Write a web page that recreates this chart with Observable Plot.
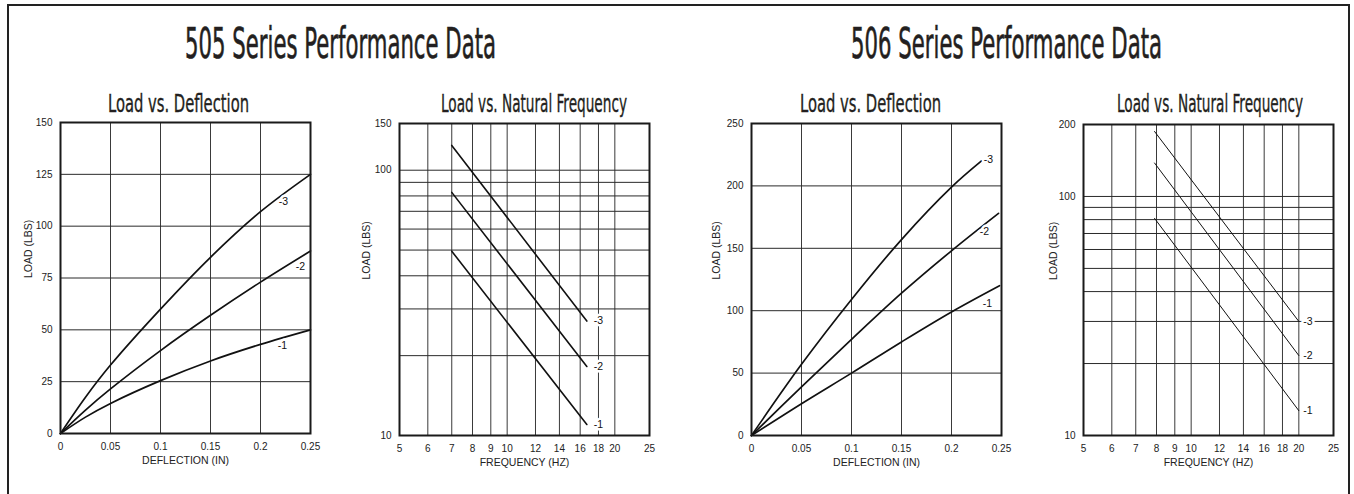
<!DOCTYPE html>
<html><head><meta charset="utf-8">
<script src="https://cdn.jsdelivr.net/npm/d3@7"></script>
<script src="https://cdn.jsdelivr.net/npm/@observablehq/plot@0.6"></script>
<style>
html,body{margin:0;padding:0;background:#fff;}
#root{position:relative;width:1354px;height:494px;overflow:hidden;background:#fff;}
.border{position:absolute;left:7px;top:4px;width:1343px;height:600px;border:2px solid #222;box-sizing:border-box;}
.ttl{position:absolute;white-space:nowrap;color:#231f20;line-height:1;transform-origin:0 0;}
.panel{position:absolute;}
</style></head><body><div id="root"><div class="border"></div></div>
<script>
// ---------- data ----------
// 505 Series, Load vs. Deflection
const defl505 = [0, 0.025, 0.05, 0.1, 0.15, 0.2, 0.25];
const load505_3 = [0, 17.5, 33, 60, 85, 107, 125];
const load505_2 = [0, 11.3, 21.5, 40, 57, 73, 88];
const load505_1 = [0, 7.9, 14.5, 25.5, 35, 43, 50];
// 506 Series, Load vs. Deflection
const defl506_3 = [0, 0.05, 0.1, 0.15, 0.2, 0.23];
const load506_3 = [0, 57, 109, 157, 199, 220];
const defl506_2 = [0, 0.05, 0.1, 0.15, 0.2, 0.247];
const load506_2 = [0, 39, 77, 114, 148, 178];
const defl506_1 = [0, 0.05, 0.1, 0.15, 0.2, 0.248];
const load506_1 = [0, 25.5, 50, 75, 99, 120];
// 505 Series, Load vs. Natural Frequency (endpoints of straight log-log lines)
const freq505 = [7, 16.7];
const nf505_3 = [124, 27];
const nf505_2 = [82.5, 18.2];
const nf505_1 = [49.5, 11];
// 506 Series, Load vs. Natural Frequency
const freq506 = [7.9, 20];
const nf506_3 = [187, 30];
const nf506_2 = [138, 21.6];
const nf506_1 = [81, 12.7];
// curve labels
const seriesNames = ["-3", "-2", "-1"];
const lab505dX = [0.223, 0.24, 0.222];
const lab505dY = [112, 80.4, 42.6];
const lab506dX = [0.237, 0.233, 0.236];
const lab506dY = [221, 163, 106];
const lab505fX = [18, 18, 18];
const lab505fY = [27, 18.2, 11];
const lab506fX = [21.2, 21.2, 21.2];
const lab506fY = [30, 21.6, 12.7];
// ticks
const deflTicks = [0, 0.05, 0.1, 0.15, 0.2, 0.25];
const deflGrid = [0.05, 0.1, 0.15, 0.2];
const load505dTicks = [0, 25, 50, 75, 100, 125, 150];
const load505dGrid = [25, 50, 75, 100, 125];
const load506dTicks = [0, 50, 100, 150, 200, 250];
const load506dGrid = [50, 100, 150, 200];
const freqTicks = [5, 6, 7, 8, 9, 10, 12, 14, 16, 18, 20, 25];
const freqGrid = [6, 7, 8, 9, 10, 12, 14, 16, 18, 20];
const load505fTicks = [10, 100, 150];
const load506fTicks = [10, 100, 200];
const logLoadGrid = [20, 30, 40, 50, 60, 70, 80, 90, 100];

const titles = [
  {text: "505 Series Performance Data", cx: 340, top: 23, size: 42, w: 311, sw: 0.6},
  {text: "506 Series Performance Data", cx: 1006, top: 23, size: 42, w: 311, sw: 0.6},
  {text: "Load vs. Deflection", cx: 178, top: 91, size: 25, w: 141, sw: 0.35},
  {text: "Load vs. Natural Frequency", cx: 534, top: 91, size: 25, w: 186, sw: 0.35},
  {text: "Load vs. Deflection", cx: 870, top: 91, size: 25, w: 141, sw: 0.35},
  {text: "Load vs. Natural Frequency", cx: 1210, top: 91, size: 25, w: 186, sw: 0.35}
];

// ---------- helpers ----------
const zip = (xs, ys) => xs.map((x, i) => ({x, y: ys[i]}));
const root = document.getElementById("root");
const FONT = "'Liberation Sans', Arial, sans-serif";

function panel(cfg) {
  const lines = cfg.series.map(s => Plot.line(zip(s[0], s[1]), {
    x: "x", y: "y", curve: cfg.curve, stroke: "#111", strokeWidth: cfg.lw
  }));
  const labels = seriesNames.map((t, i) => ({t, x: cfg.labX[i], y: cfg.labY[i]}));
  const chart = Plot.plot({
    width: cfg.width, height: cfg.height,
    marginLeft: cfg.ml, marginRight: cfg.mr, marginTop: cfg.mt, marginBottom: cfg.mb,
    style: {fontFamily: FONT, fontSize: "10px", color: "#222", background: "transparent"},
    x: {type: cfg.xtype, domain: cfg.xdomain},
    y: {type: cfg.ytype, domain: cfg.ydomain},
    marks: [
      Plot.ruleX(cfg.xgrid, {stroke: "#3a3a3a", strokeWidth: 1}),
      Plot.ruleY(cfg.ygrid, {stroke: "#2a2a2a", strokeWidth: 1}),
      ...lines,
      Plot.text(labels, {x: "x", y: "y", text: "t", fontSize: 10.5, fill: "#111",
        stroke: "white", strokeWidth: 5, paintOrder: "stroke", textAnchor: "middle"}),
      Plot.frame({stroke: "#1a1a1a", strokeWidth: 2}),
      Plot.axisX({ticks: cfg.xticks, tickSize: 0, tickPadding: 9, label: null, tickFormat: d => String(d), fontSize: 10}),
      Plot.axisY({ticks: cfg.yticks, tickSize: 0, tickPadding: 8, label: null, tickFormat: d => String(d), fontSize: 10}),
      Plot.text([cfg.xlabel], {text: d => d, frameAnchor: "bottom", dy: 30, fontSize: 10.5, fill: "#222"}),
      Plot.text(["LOAD (LBS)"], {text: d => d, frameAnchor: "left", rotate: -90, dx: cfg.ylabDx, fontSize: 10.5, fill: "#222"})
    ]
  });
  const wrap = document.createElement("div");
  wrap.className = "panel";
  wrap.style.left = cfg.left + "px";
  wrap.style.top = cfg.top + "px";
  wrap.appendChild(chart);
  root.appendChild(wrap);
}

panel({left: 0, top: 110, width: 340, height: 370, ml: 60, mr: 30, mt: 12, mb: 47,
  xtype: "linear", xdomain: [0, 0.25], ytype: "linear", ydomain: [0, 150],
  xgrid: deflGrid, ygrid: load505dGrid, xticks: deflTicks, yticks: load505dTicks,
  xlabel: "DEFLECTION (IN)", ylabDx: -32, curve: "catmull-rom", lw: 1.7,
  series: [[defl505, load505_3], [defl505, load505_2], [defl505, load505_1]],
  labX: lab505dX, labY: lab505dY});

panel({left: 340, top: 110, width: 340, height: 370, ml: 59, mr: 31, mt: 13, mb: 45,
  xtype: "log", xdomain: [5, 25], ytype: "log", ydomain: [10, 150],
  xgrid: freqGrid, ygrid: logLoadGrid, xticks: freqTicks, yticks: load505fTicks,
  xlabel: "FREQUENCY (HZ)", ylabDx: -33, curve: "linear", lw: 1.6,
  series: [[freq505, nf505_3], [freq505, nf505_2], [freq505, nf505_1]],
  labX: lab505fX, labY: lab505fY});

panel({left: 690, top: 110, width: 340, height: 370, ml: 61, mr: 29, mt: 13, mb: 45,
  xtype: "linear", xdomain: [0, 0.25], ytype: "linear", ydomain: [0, 250],
  xgrid: deflGrid, ygrid: load506dGrid, xticks: deflTicks, yticks: load506dTicks,
  xlabel: "DEFLECTION (IN)", ylabDx: -35, curve: "catmull-rom", lw: 1.7,
  series: [[defl506_3, load506_3], [defl506_2, load506_2], [defl506_1, load506_1]],
  labX: lab506dX, labY: lab506dY});

panel({left: 1020, top: 110, width: 334, height: 370, ml: 63, mr: 21, mt: 14, mb: 45,
  xtype: "log", xdomain: [5, 25], ytype: "log", ydomain: [10, 200],
  xgrid: freqGrid, ygrid: logLoadGrid, xticks: freqTicks, yticks: load506fTicks,
  xlabel: "FREQUENCY (HZ)", ylabDx: -30, curve: "linear", lw: 1,
  series: [[freq506, nf506_3], [freq506, nf506_2], [freq506, nf506_1]],
  labX: lab506fX, labY: lab506fY});

// ---------- titles (condensed headline style) ----------
const canvas = document.createElement("canvas");
const ctx = canvas.getContext("2d");
const TFONT = "'DejaVu Sans Condensed', 'DejaVu Sans', sans-serif";
for (const t of titles) {
  ctx.font = `${t.size}px ${TFONT}`;
  const nat = ctx.measureText(t.text).width;
  const s = t.w / nat;
  const d = document.createElement("div");
  d.className = "ttl";
  d.textContent = t.text;
  d.style.fontFamily = TFONT;
  d.style.fontSize = t.size + "px";
  d.style.left = (t.cx - t.w / 2) + "px";
  d.style.top = t.top + "px";
  d.style.transform = `scaleX(${s})`;
  d.style.webkitTextStroke = `${t.sw}px #231f20`;
  root.appendChild(d);
}
</script></body></html>
